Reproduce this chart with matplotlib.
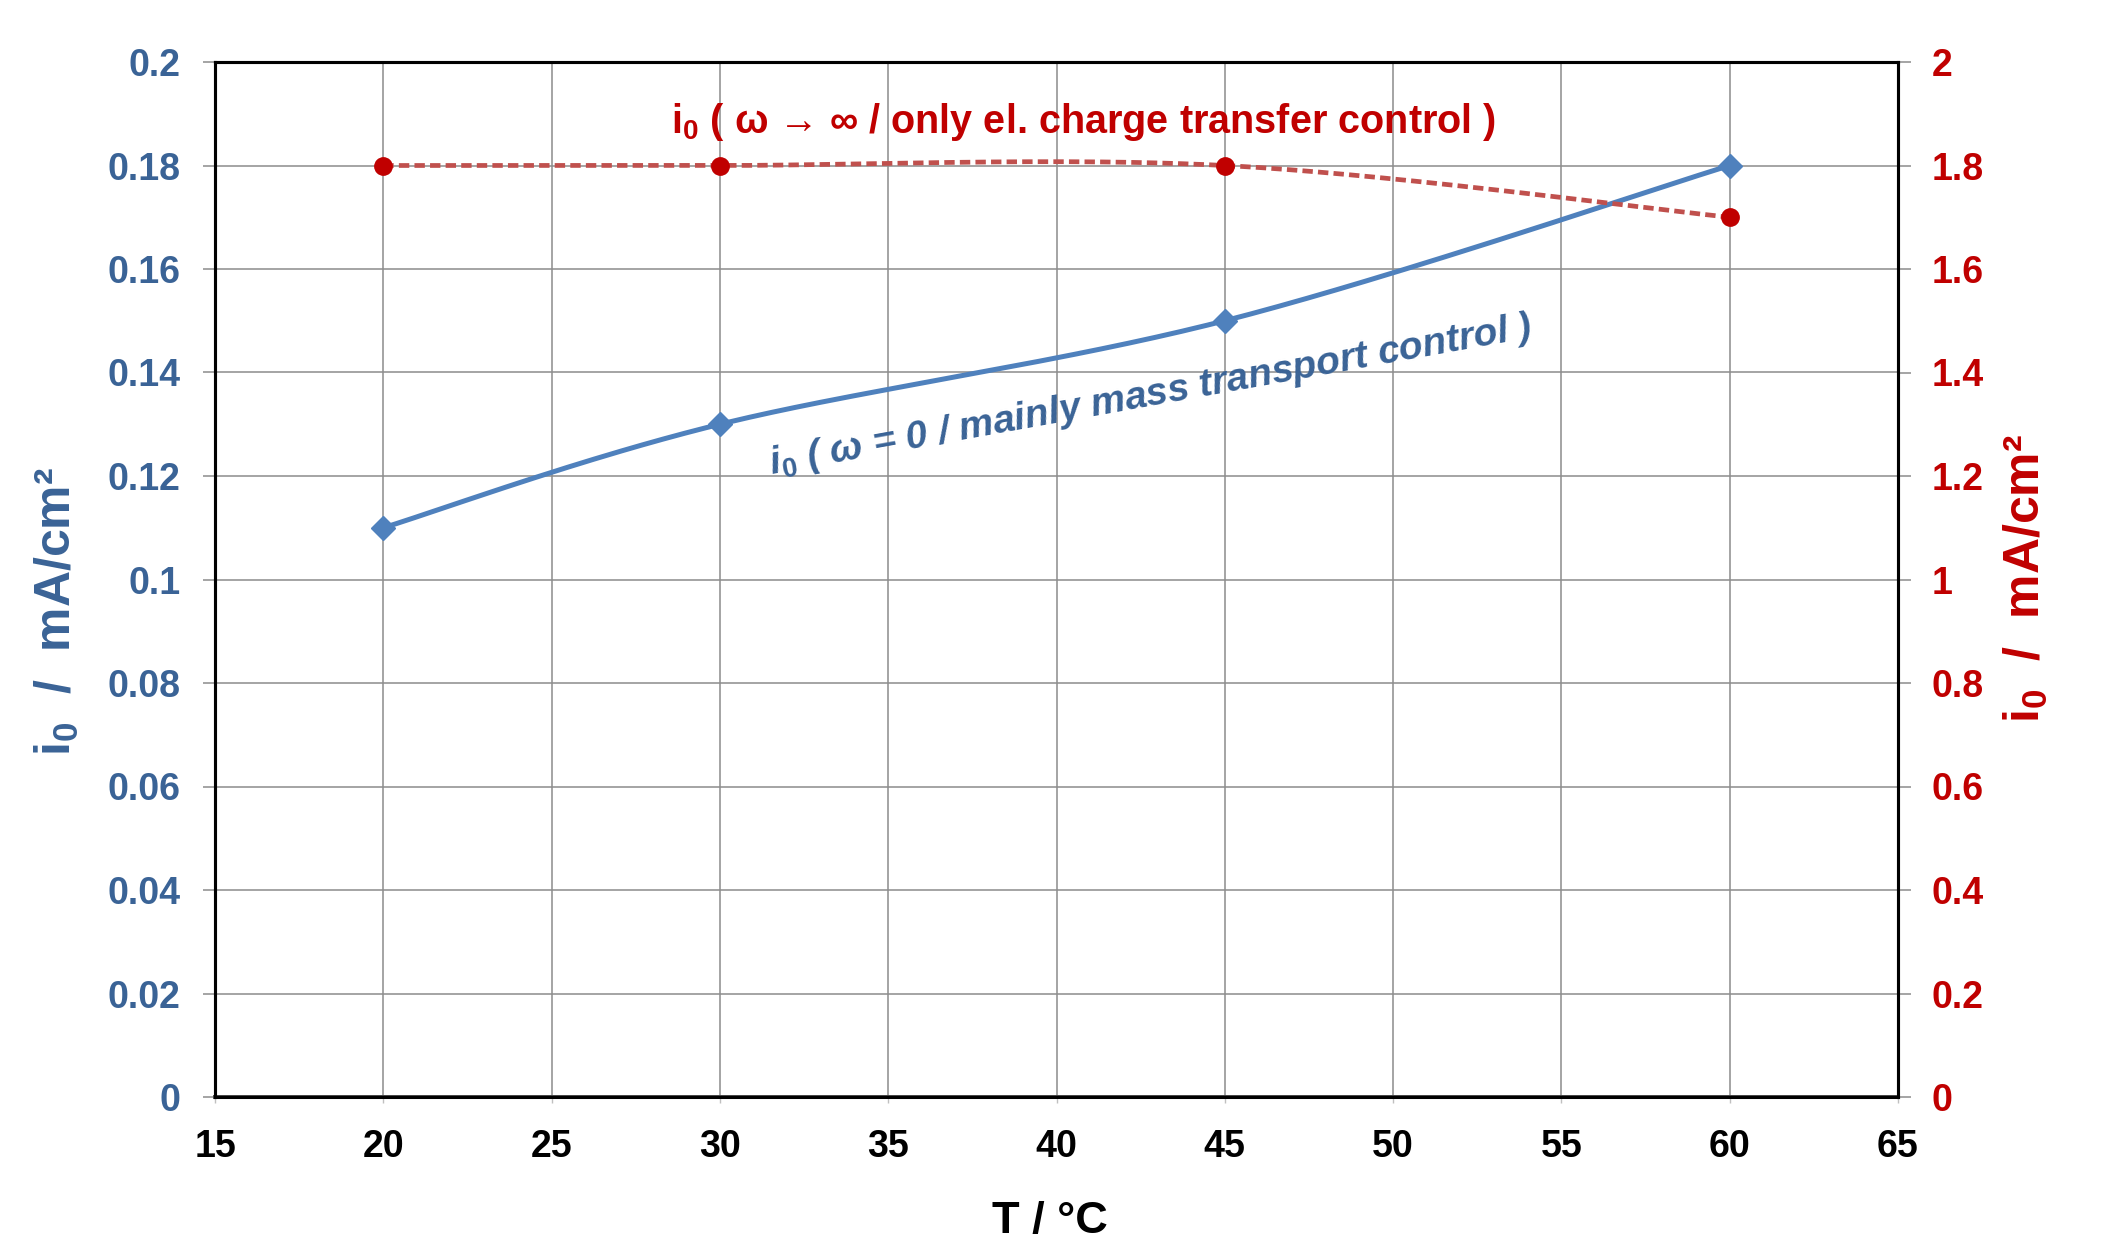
import numpy as np
import matplotlib
matplotlib.use("Agg")
import matplotlib.pyplot as plt

# ---- data ----
temps = [20, 30, 45, 60]
i0_mass = [0.11, 0.13, 0.15, 0.18]          # left axis (omega = 0)
i0_charge = [1.8, 1.8, 1.8, 1.7]            # right axis (omega -> inf)
x_ticks = [15, 20, 25, 30, 35, 40, 45, 50, 55, 60, 65]
yl_ticks = [0, 0.02, 0.04, 0.06, 0.08, 0.1, 0.12, 0.14, 0.16, 0.18, 0.2]
yr_ticks = [0, 0.2, 0.4, 0.6, 0.8, 1, 1.2, 1.4, 1.6, 1.8, 2]
yl_labels = ["0", "0.02", "0.04", "0.06", "0.08", "0.1", "0.12", "0.14", "0.16", "0.18", "0.2"]
yr_labels = ["0", "0.2", "0.4", "0.6", "0.8", "1", "1.2", "1.4", "1.6", "1.8", "2"]

plt.rcParams['font.family'] = ['Liberation Sans', 'DejaVu Sans']
plt.rcParams['mathtext.fontset'] = 'custom'
plt.rcParams['mathtext.rm'] = 'Liberation Sans:bold'
plt.rcParams['mathtext.bf'] = 'Liberation Sans:bold'
plt.rcParams['mathtext.it'] = 'Liberation Sans:bold:italic'

BLUE_LINE = '#4F81BD'
BLUE_TXT = '#3A6396'
RED_LINE = '#C0504D'
RED_MK = '#C00000'
RED_TXT = '#C00000'

W, H = 2111, 1243
fig = plt.figure(figsize=(W / 100, H / 100), dpi=100)
L, R, T, B = 215, 1898, 62, 1097
ax = fig.add_axes([L / W, 1 - B / H, (R - L) / W, (B - T) / H])
ax2 = ax.twinx()

XMIN, XMAX = 15, 65


def smooth(xs, ys, ymax, n=60):
    # Catmull-Rom style smoothing in display-proportional coordinates
    pw, ph = (R - L), (B - T)
    P = np.array([[(x - XMIN) / (XMAX - XMIN) * pw, y / ymax * ph] for x, y in zip(xs, ys)])
    out = []
    m = len(P)
    for i in range(m - 1):
        p0 = P[max(i - 1, 0)]
        p1 = P[i]
        p2 = P[i + 1]
        p3 = P[min(i + 2, m - 1)]
        c1 = p1 + (p2 - p0) / 6.0
        c2 = p2 - (p3 - p1) / 6.0
        t = np.linspace(0, 1, n)[:, None]
        seg = ((1 - t) ** 3) * p1 + 3 * ((1 - t) ** 2) * t * c1 + 3 * (1 - t) * t ** 2 * c2 + t ** 3 * p2
        out.append(seg if i == 0 else seg[1:])
    S = np.vstack(out)
    sx = S[:, 0] / pw * (XMAX - XMIN) + XMIN
    sy = S[:, 1] / ph * ymax
    return sx, sy


bx, by = smooth(temps, i0_mass, 0.2)
ax.plot(bx, by, color=BLUE_LINE, lw=3.6, solid_capstyle='round', zorder=3)
ax.plot(temps, i0_mass, linestyle='none', marker='D', markersize=12,
        color=BLUE_LINE, zorder=4)

rx, ry = smooth(temps, i0_charge, 2.0)
ax2.plot(rx, ry, color=RED_LINE, lw=3.4, dashes=(2.2, 1.1), zorder=3)
ax2.plot(temps, i0_charge, linestyle='none', marker='o', markersize=12.5,
         color=RED_MK, zorder=4)

ax.set_xlim(XMIN, XMAX)
ax.set_ylim(0, 0.2)
ax2.set_ylim(0, 2)
ax.set_xticks(x_ticks)
ax.set_xticklabels([str(v) for v in x_ticks])
ax.set_yticks(yl_ticks)
ax.set_yticklabels(yl_labels)
ax2.set_yticks(yr_ticks)
ax2.set_yticklabels(yr_labels)

ax.grid(True, color='#8C8C8C', lw=1.1)
ax.set_axisbelow(True)
ax2.grid(False)
ax2.patch.set_visible(False)

for a in (ax, ax2):
    for s in a.spines.values():
        s.set_color('black')
        s.set_linewidth(2.2)
ax.spines['bottom'].set_color('#404040')
ax.spines['bottom'].set_linewidth(2.8)

ax.tick_params(axis='y', direction='out', length=9, width=1.1, color='#8C8C8C',
               pad=16, labelsize=27, labelcolor=BLUE_TXT)
ax.tick_params(axis='x', direction='out', length=4, width=1.0, color='#C0C0C0',
               pad=19, labelsize=27, labelcolor='black')
ax2.tick_params(axis='y', direction='out', length=9, width=1.1, color='#8C8C8C',
                pad=15, labelsize=27, labelcolor=RED_TXT)
for lab in ax.get_xticklabels() + ax.get_yticklabels() + ax2.get_yticklabels():
    lab.set_fontweight('bold')

# axis labels
fig.text(57 / W, 1 - 612 / H, r"i$_\mathbf{0}$  /  mA/cm²", rotation=90, ha='center', va='center',
         fontsize=36, fontweight='bold', color=BLUE_TXT)
fig.text(2026 / W, 1 - 579 / H, r"i$_\mathbf{0}$  /  mA/cm²", rotation=90, ha='center', va='center',
         fontsize=36, fontweight='bold', color=RED_TXT)
fig.text(1050 / W, 1 - 1222 / H, "T / °C", ha='center', va='center',
         fontsize=32.5, fontweight='bold', color='black')

# annotations
ax.text(40.8, 0.1885, r"i$_\mathbf{0}$ ( ω → ∞ / only el. charge transfer control )",
        ha='center', va='center', fontsize=28.5, fontweight='bold', color=RED_TXT, zorder=5)
ax.text(42.8, 0.1355, r"i$_\mathbf{0}$ ( ω = 0 / mainly mass transport control )",
        ha='center', va='center', fontsize=28, fontweight='bold', fontstyle='italic',
        color=BLUE_TXT, rotation=10.2, rotation_mode='anchor', zorder=5)

fig.savefig("out.png", dpi=100, facecolor='white')
